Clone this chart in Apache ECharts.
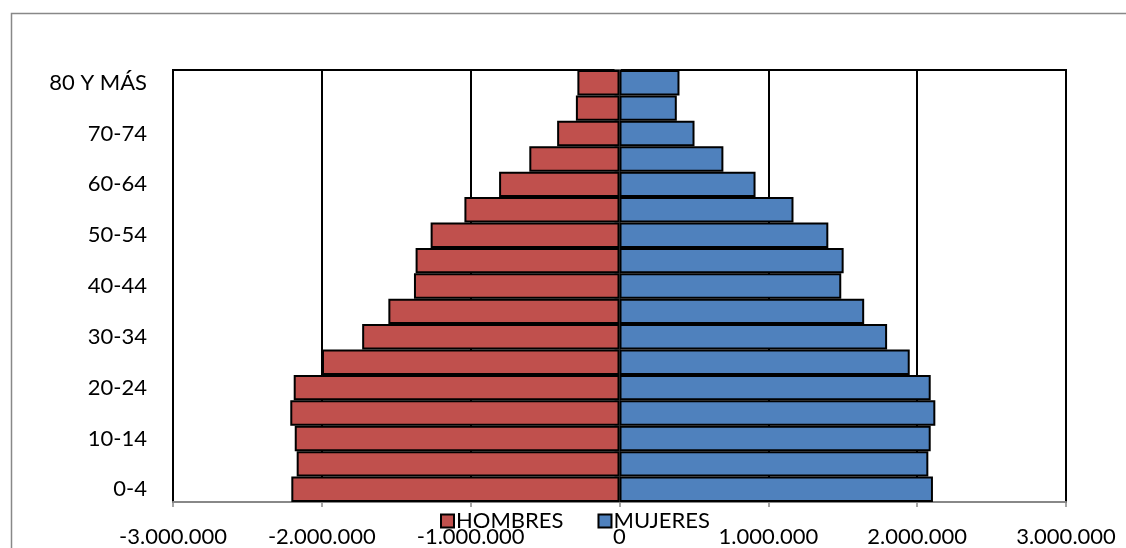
<!DOCTYPE html>
<html>
<head>
<meta charset="utf-8">
<script src="https://cdn.jsdelivr.net/npm/echarts@6/dist/echarts.min.js"></script>
<style>html,body{margin:0;padding:0;background:#fff;}#c{width:1126px;height:548px;}</style>
</head>
<body>
<div id="c"></div>
<script>
const categories = ['0-4','5-9','10-14','15-19','20-24','25-29','30-34','35-39','40-44','45-49','50-54','55-59','60-64','65-69','70-74','75-79','80 Y MÁS'];
const hombres = [-2205000,-2169000,-2182000,-2212000,-2189000,-1999000,-1729000,-1553000,-1381000,-1370000,-1269000,-1042000,-809000,-606000,-419000,-293000,-283000];
const mujeres = [2106000,2075000,2091000,2122000,2091000,1950000,1798000,1644000,1490000,1506000,1403000,1169000,914000,698000,504000,385000,403000];
const xTicks = [-3000000,-2000000,-1000000,0,1000000,2000000,3000000];

const FONT = 'Lato';
function fmt(v){
  const s = Math.abs(Math.round(v)).toString().replace(/\B(?=(\d{3})+(?!\d))/g,'.');
  return (v < 0 ? '-' : '') + s;
}
const chart = echarts.init(document.getElementById('c'));
chart.setOption({
  animation:false,
  backgroundColor:'#fff',
  textStyle:{fontFamily:FONT},
  graphic:[{type:'rect',left:9,top:11,shape:{width:1200,height:600},style:{fill:'none',stroke:'#888',lineWidth:1.5},silent:true,z:-10}],
  grid:{left:173,right:60,top:70,bottom:45,show:true,borderColor:'#000',borderWidth:2,backgroundColor:'transparent'},
  legend:{
    data:['HOMBRES','MUJERES'],
    left:435, top:505,
    itemWidth:13, itemHeight:13, itemGap:34,
    icon:'rect',
    textStyle:{fontSize:22,color:'#000',fontFamily:FONT,padding:[0,0,0,-3]}
  },
  xAxis:{
    type:'value', min:xTicks[0], max:xTicks[xTicks.length-1], interval:1000000,
    axisLine:{show:true,onZero:false,lineStyle:{color:'#888',width:2}},
    axisTick:{show:true,length:5,lineStyle:{color:'#888',width:1.5}},
    axisLabel:{formatter:fmt,fontSize:22,color:'#000',margin:24,fontFamily:FONT},
    splitLine:{show:true,lineStyle:{color:'#000',width:2}}
  },
  yAxis:{
    type:'category', data:categories,
    axisLine:{show:true,onZero:true,lineStyle:{color:'#888',width:2}},
    axisTick:{show:true,length:5,interval:0,lineStyle:{color:'#888',width:1.5}},
    axisLabel:{interval:1,fontSize:22,color:'#000',margin:26,fontFamily:FONT},
    splitLine:{show:false}
  },
  series:[
    {name:'HOMBRES',type:'bar',data:hombres,barCategoryGap:0,barGap:'-100%',
     itemStyle:{color:'#C0504D',borderColor:'#000',borderWidth:2}},
    {name:'MUJERES',type:'bar',data:mujeres,barCategoryGap:0,barGap:'-100%',
     itemStyle:{color:'#4F81BD',borderColor:'#000',borderWidth:2}}
  ]
});
</script>
</body>
</html>
